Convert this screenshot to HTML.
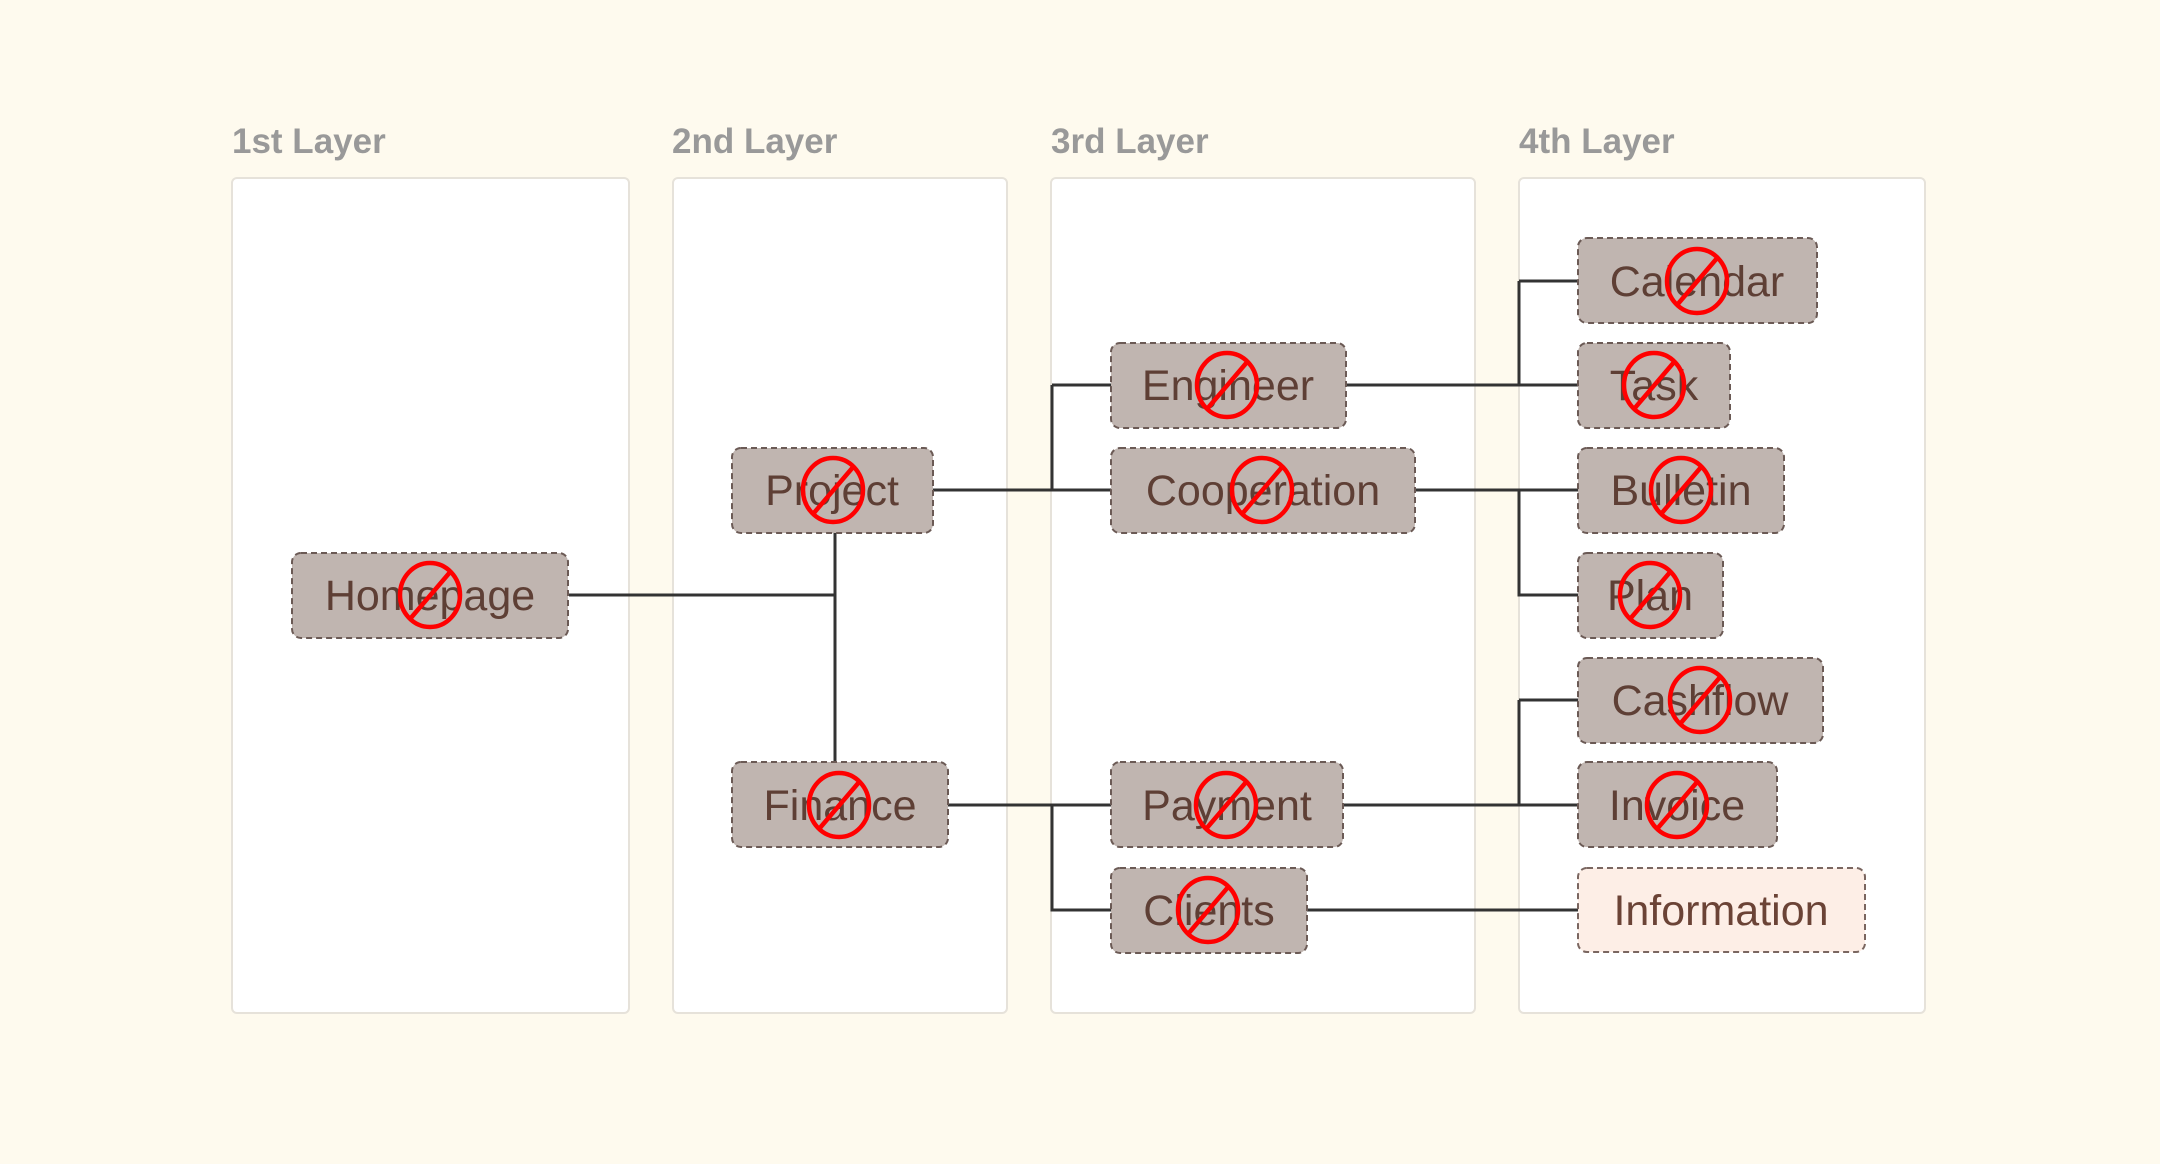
<!DOCTYPE html>
<html><head><meta charset="utf-8"><style>
html,body{margin:0;padding:0;background:#fefaee;}
svg{display:block}
.lbl{font-family:"Liberation Sans",sans-serif;font-weight:bold;font-size:35px;fill:#999}
.t{font-family:"Liberation Sans",sans-serif;font-size:43px;fill:#5e3f35;text-anchor:middle;dominant-baseline:central}
.n{fill:#c0b5b0;stroke:#6b5a55;stroke-width:2;stroke-dasharray:6 4}
.p{fill:#fff;stroke:#e6e2da;stroke-width:2}
.c{stroke:#333;stroke-width:3;fill:none}
.x{stroke:#f00;stroke-width:4.5;fill:none}
</style></head><body>
<svg width="2160" height="1164" viewBox="0 0 2160 1164" xmlns="http://www.w3.org/2000/svg">
<defs>
<g id="no"><ellipse class="x" cx="0" cy="0" rx="30" ry="32"/><path class="x" d="M-20 24L21 -24"/></g>
</defs>
<rect width="2160" height="1164" fill="#fefaee"/>
<text class="lbl" x="232" y="153">1st Layer</text>
<text class="lbl" x="672" y="153">2nd Layer</text>
<text class="lbl" x="1051" y="153">3rd Layer</text>
<text class="lbl" x="1519" y="153">4th Layer</text>
<rect class="p" x="232" y="178" width="397" height="835" rx="5"/>
<rect class="p" x="673" y="178" width="334" height="835" rx="5"/>
<rect class="p" x="1051" y="178" width="424" height="835" rx="5"/>
<rect class="p" x="1519" y="178" width="406" height="835" rx="5"/>
<path class="c" d="M569 595H835M835 533V762"/>
<path class="c" d="M933 490H1111M1052 385V490M1052 385H1111"/>
<path class="c" d="M948 805H1111M1052 805V910H1111"/>
<path class="c" d="M1346 385H1578M1519 281V385M1519 281H1578"/>
<path class="c" d="M1415 490H1578M1519 490V595H1578"/>
<path class="c" d="M1343 805H1578M1519 700V805M1519 700H1578"/>
<path class="c" d="M1307 910H1578"/>
<g>
<rect class="n" x="292" y="553" width="276" height="85" rx="9"/><text class="t" x="430" y="596">Homepage</text>
<rect class="n" x="732" y="448" width="201" height="85" rx="9"/><text class="t" x="832" y="491">Project</text>
<rect class="n" x="732" y="762" width="216" height="85" rx="9"/><text class="t" x="840" y="806">Finance</text>
<rect class="n" x="1111" y="343" width="235" height="85" rx="9"/><text class="t" x="1228" y="386">Engineer</text>
<rect class="n" x="1111" y="448" width="304" height="85" rx="9"/><text class="t" x="1263" y="491">Cooperation</text>
<rect class="n" x="1111" y="762" width="232" height="85" rx="9"/><text class="t" x="1227" y="806">Payment</text>
<rect class="n" x="1111" y="868" width="196" height="85" rx="9"/><text class="t" x="1209" y="911">Clients</text>
<rect class="n" x="1578" y="238" width="239" height="85" rx="9"/><text class="t" x="1697" y="282">Calendar</text>
<rect class="n" x="1578" y="343" width="152" height="85" rx="9"/><text class="t" x="1654" y="386">Task</text>
<rect class="n" x="1578" y="448" width="206" height="85" rx="9"/><text class="t" x="1681" y="491">Bulletin</text>
<rect class="n" x="1578" y="553" width="145" height="85" rx="9"/><text class="t" x="1650" y="596">Plan</text>
<rect class="n" x="1578" y="658" width="245" height="85" rx="9"/><text class="t" x="1700" y="701">Cashflow</text>
<rect class="n" x="1578" y="762" width="199" height="85" rx="9"/><text class="t" x="1677" y="806">Invoice</text>
<rect x="1578" y="868" width="287" height="84" rx="9" fill="#fdeee6" stroke="#7a6660" stroke-width="2" stroke-dasharray="6 4"/><text class="t" x="1721" y="911" style="fill:#6b4336">Information</text>
</g>
<use href="#no" x="430" y="595"/>
<use href="#no" x="833" y="490"/>
<use href="#no" x="839" y="805"/>
<use href="#no" x="1227" y="385"/>
<use href="#no" x="1262" y="490"/>
<use href="#no" x="1226" y="805"/>
<use href="#no" x="1208" y="910"/>
<use href="#no" x="1697" y="281"/>
<use href="#no" x="1654" y="385"/>
<use href="#no" x="1681" y="490"/>
<use href="#no" x="1650" y="595"/>
<use href="#no" x="1700" y="700"/>
<use href="#no" x="1677" y="805"/>
</svg>
</body></html>
